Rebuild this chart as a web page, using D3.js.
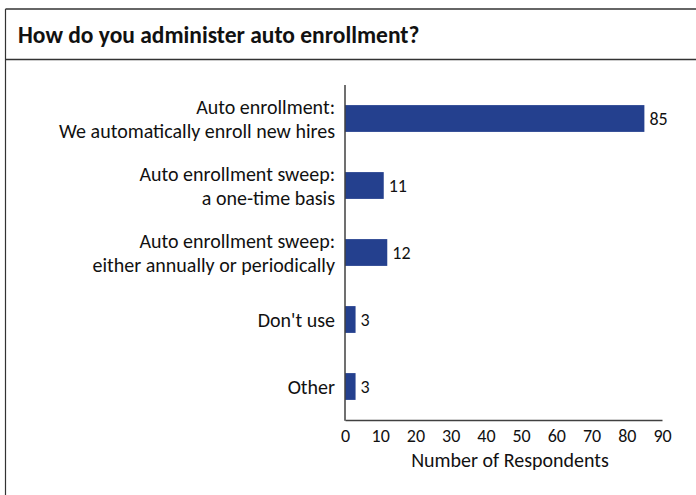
<!DOCTYPE html>
<html>
<head>
<meta charset="utf-8">
<script src="https://cdn.jsdelivr.net/npm/d3@7"></script>
<style>
  html, body { margin: 0; padding: 0; background: #fff; }
  svg { display: block; font-family: Carlito, Calibri, Lato, sans-serif; }
</style>
</head>
<body>
<svg id="chart" width="696" height="495"></svg>
<script>
// chart data
const categories = [
  ['Auto enrollment:', 'We automatically enroll new hires'],
  ['Auto enrollment sweep:', 'a one-time basis'],
  ['Auto enrollment sweep:', 'either annually or periodically'],
  ["Don't use"],
  ['Other']
];
const values = [85, 11, 12, 3, 3];
const xTicks = [0, 10, 20, 30, 40, 50, 60, 70, 80, 90];
const title = 'How do you administer auto enrollment?';
const xTitle = 'Number of Respondents';

const svg = d3.select('#chart');
const barColor = '#24408e';
const axisColor = '#404040';
const textColor = '#111';

// panel frame + header
svg.append('line')
  .attr('x1', 5.5).attr('x2', 696).attr('y1', 9).attr('y2', 9)
  .attr('stroke', '#333').attr('stroke-width', 1.5);
svg.append('line')
  .attr('x1', 5.5).attr('x2', 696).attr('y1', 59.5).attr('y2', 59.5)
  .attr('stroke', '#333').attr('stroke-width', 1.5);
svg.append('line')
  .attr('x1', 5.5).attr('x2', 5.5).attr('y1', 9).attr('y2', 495)
  .attr('stroke', '#333').attr('stroke-width', 1.2);

svg.append('text')
  .attr('x', 18).attr('y', 43)
  .attr('font-size', 23.5).attr('font-weight', 'bold')
  .attr('fill', textColor)
  .text(title);

const x = d3.scaleLinear().domain([0, 90]).range([345, 662]);
const y = d3.scaleBand()
  .domain(d3.range(categories.length))
  .range([85, 420])
  .paddingInner(0.6).paddingOuter(0.3);

// bars
svg.append('g')
  .selectAll('rect')
  .data(values)
  .join('rect')
  .attr('x', x(0))
  .attr('y', (d, i) => y(i))
  .attr('width', d => x(d) - x(0))
  .attr('height', y.bandwidth())
  .attr('fill', barColor);

// value labels
svg.append('g')
  .selectAll('text')
  .data(values)
  .join('text')
  .attr('x', d => x(d) + 5)
  .attr('y', (d, i) => y(i) + y.bandwidth() / 2 + 6.5)
  .attr('font-size', 18)
  .attr('fill', textColor)
  .text(d => d);

// category labels (two-line ones get stacked tspans)
const labels = svg.append('g')
  .selectAll('text')
  .data(categories)
  .join('text')
  .attr('text-anchor', 'end')
  .attr('font-size', 20)
  .attr('fill', textColor);

labels.each(function (lines, i) {
  const cy = y(i) + y.bandwidth() / 2;
  const t = d3.select(this);
  if (lines.length === 1) {
    t.append('tspan').attr('x', 335).attr('y', cy + 7).text(lines[0]);
  } else {
    t.append('tspan').attr('x', 335).attr('y', cy - 4.5).text(lines[0]);
    t.append('tspan').attr('x', 335).attr('y', cy + 19.5).text(lines[1]);
  }
});

// axes
const xAxis = svg.append('g')
  .attr('transform', 'translate(0,420)')
  .call(d3.axisBottom(x).tickValues(xTicks).tickSize(0).tickPadding(9));
xAxis.select('.domain').attr('stroke', axisColor).attr('stroke-width', 1.5);
xAxis.selectAll('text')
  .attr('font-size', 18)
  .attr('font-family', 'Carlito, Calibri, Lato, sans-serif')
  .attr('fill', textColor);

svg.append('line')
  .attr('x1', 345).attr('x2', 345).attr('y1', 85).attr('y2', 420.75)
  .attr('stroke', axisColor).attr('stroke-width', 1.5);

svg.append('text')
  .attr('x', 510).attr('y', 466.5)
  .attr('text-anchor', 'middle')
  .attr('font-size', 20)
  .attr('fill', textColor)
  .text(xTitle);
</script>
</body>
</html>
